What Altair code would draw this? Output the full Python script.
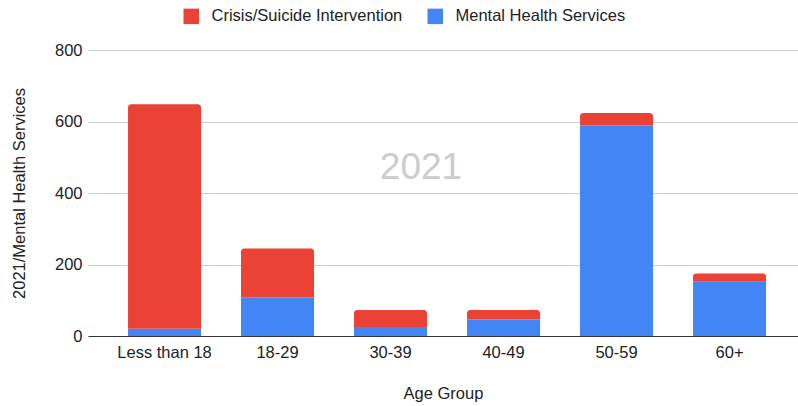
import altair as alt
import pandas as pd

age_groups = ["Less than 18", "18-29", "30-39", "40-49", "50-59", "60+"]
mental_health = [20, 108, 25, 46, 589, 152]
crisis_suicide = [628, 137, 48, 27, 35, 23]
series_names = ["Crisis/Suicide Intervention", "Mental Health Services"]
series_colors = ["#EA4335", "#4285F4"]

rows = []
for g, m, c in zip(age_groups, mental_health, crisis_suicide):
    rows.append({"group": g, "series": series_names[1], "y0": 0, "y1": m})
    rows.append({"group": g, "series": series_names[0], "y0": m, "y1": m + c})
df = pd.DataFrame(rows)

FONT = "Liberation Sans"
FS = 16.5

x_enc = alt.X(
    "group:N",
    sort=age_groups,
    title="Age Group",
    scale=alt.Scale(paddingInner=0.354, paddingOuter=0.3186, align=0.556),
    axis=alt.Axis(labelAngle=0, ticks=False, domainColor="#333333", labelFontSize=FS,
                  labelColor="#222222", labelPadding=8, titleFontSize=FS,
                  titleFontWeight="normal", titleColor="#222222", titlePadding=25,
                  labelFont=FONT, titleFont=FONT, grid=False),
)
y_enc = alt.Y(
    "y0:Q",
    title="2021/Mental Health Services",
    scale=alt.Scale(domain=[0, 800], nice=False),
    axis=alt.Axis(values=[0, 200, 400, 600, 800], ticks=False, domain=False,
                  gridColor="#cccccc", labelFontSize=FS, labelColor="#222222",
                  labelPadding=6, titleFontSize=FS, titleFontWeight="normal",
                  titleColor="#222222", titlePadding=27, labelFont=FONT, titleFont=FONT),
)
color_enc = alt.Color(
    "series:N",
    scale=alt.Scale(domain=series_names, range=series_colors),
    legend=alt.Legend(orient="none", legendX=95, legendY=-42, direction="horizontal",
                      title=None, symbolType="square", symbolSize=240,
                      symbolStrokeWidth=0, labelFontSize=FS, labelFont=FONT,
                      labelColor="#222222", columnPadding=24, labelOffset=12,
                      labelLimit=0),
)

blue = alt.Chart(df).transform_filter(
    alt.datum.series == series_names[1]
).mark_bar().encode(x=x_enc, y=y_enc, y2="y1:Q", color=color_enc)

red = alt.Chart(df).transform_filter(
    alt.datum.series == series_names[0]
).mark_bar(cornerRadiusTopLeft=3, cornerRadiusTopRight=3).encode(
    x=x_enc, y=y_enc, y2="y1:Q", color=color_enc)

watermark = alt.Chart(pd.DataFrame({"t": ["2021"]})).mark_text(
    fontSize=37, color="#cccccc", font=FONT
).encode(text="t:N", x=alt.value(333), y=alt.value(118))

chart = alt.layer(blue, red, watermark).properties(
    width=710, height=286,
    background="white",
    autosize=alt.AutoSizeParams(type="none"),
    padding={"left": 88, "top": 50, "right": 0, "bottom": 70},
).configure_view(stroke=None)

chart.save("out.html", embed_options={"renderer": "svg", "actions": False})
